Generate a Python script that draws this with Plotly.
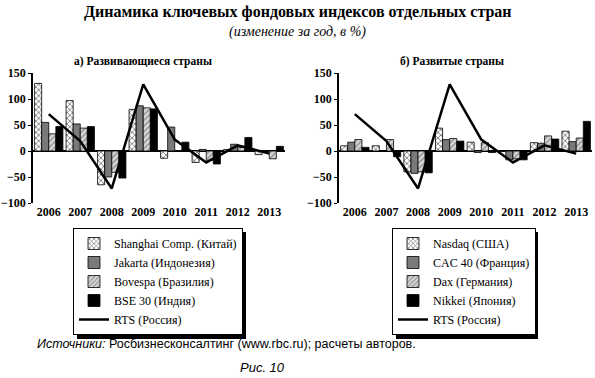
import plotly.graph_objects as go

years = ["2006", "2007", "2008", "2009", "2010", "2011", "2012", "2013"]

# Emerging markets (left panel)
shanghai = [130, 97, -65, 80, -14, -22, 3, -7]
jakarta = [55, 52, -50, 87, 46, 3, 13, -1]
bovespa = [33, 44, -41, 83, 1, -18, 7, -15]
bse30 = [47, 47, -52, 81, 17, -25, 26, 9]
rts = [71, 19, -72, 128, 22, -22, 11, -5]

# Developed markets (right panel)
nasdaq = [10, 10, -40, 44, 17, -1, 16, 38]
cac40 = [17, 1, -43, 22, -3, -17, 15, 18]
dax = [22, 22, -40, 24, 16, -15, 29, 25]
nikkei = [7, -11, -42, 19, -3, -17, 23, 57]

left_names = ["Shanghai Comp. (Китай)", "Jakarta (Индонезия)", "Bovespa (Бразилия)", "BSE 30 (Индия)", "RTS (Россия)"]
right_names = ["Nasdaq (США)", "CAC 40 (Франция)", "Dax (Германия)", "Nikkei (Япония)", "RTS (Россия)"]

SERIF = "Liberation Serif, DejaVu Serif, serif"
NARROW = "Liberation Sans Narrow, Liberation Sans, sans-serif"

styles = [
    dict(color="white", pattern=dict(shape="x", fgcolor="black", bgcolor="white", size=4, solidity=0.4)),
    dict(color="#7a7a7a", pattern=None),
    dict(color="#cfcfcf", pattern=dict(shape="/", fgcolor="#444", bgcolor="#d8d8d8", size=4, solidity=0.35)),
    dict(color="black", pattern=None),
]

fig = go.Figure()

def add_panel(series, names, xa, ya, legend):
    for vals, name, st in zip(series, names[:4], styles):
        marker = dict(color=st["color"], line=dict(color="black", width=0.8))
        if st["pattern"] is not None:
            marker["pattern"] = st["pattern"]
        fig.add_trace(go.Bar(x=years, y=vals, name=name, marker=marker,
                             xaxis=xa, yaxis=ya, legend=legend))
    fig.add_trace(go.Scatter(x=years, y=rts, name=names[4], mode="lines",
                             line=dict(color="black", width=2.5),
                             xaxis=xa, yaxis=ya, legend=legend))

add_panel([shanghai, jakarta, bovespa, bse30], left_names, "x", "y", "legend")
add_panel([nasdaq, cac40, dax, nikkei], right_names, "x2", "y2", "legend2")

tickfont = dict(family=SERIF, size=12, color="black", weight="bold")
ydom = [1 - 203 / 378, 1 - 73 / 378]

xcommon = dict(showgrid=False, showline=False, zeroline=False, ticks="",
               tickfont=tickfont, type="category", automargin=False)
ycommon = dict(range=[-100, 150], tickvals=[-100, -50, 0, 50, 100, 150],
               ticktext=["\u2212100", "\u221250", "0", "50", "100", "150"],
               showgrid=False, showline=True, linecolor="black", linewidth=1.5,
               ticks="outside", ticklen=3, tickcolor="black",
               zeroline=True, zerolinecolor="black", zerolinewidth=1.5,
               tickfont=tickfont, domain=ydom, automargin=False)

LEG_TOP = 228
legcommon = dict(xanchor="left", yanchor="top", bgcolor="white", bordercolor="black",
                 borderwidth=1, font=dict(family=SERIF, size=12, color="black"),
                 tracegroupgap=0, itemwidth=30)

fig.update_layout(
    width=595, height=378,
    margin=dict(l=0, r=0, t=0, b=0),
    paper_bgcolor="white", plot_bgcolor="white",
    barmode="group", bargap=0.1, bargroupgap=0,
    xaxis=dict(domain=[33 / 595, 285 / 595], anchor="y", **xcommon),
    yaxis=dict(anchor="x", **ycommon),
    xaxis2=dict(domain=[339 / 595, 592 / 595], anchor="y2", **xcommon),
    yaxis2=dict(anchor="x2", **ycommon),
    legend=dict(x=73 / 595, y=1 - LEG_TOP / 378, **legcommon),
    legend2=dict(x=392 / 595, y=1 - LEG_TOP / 378, **legcommon),
    showlegend=True,
)

# legend shadows
for x0, x1 in [(77, 246), (396, 538)]:
    fig.add_shape(type="rect", xref="paper", yref="paper",
                  x0=x0 / 595, x1=x1 / 595, y0=1 - (LEG_TOP + 111) / 378, y1=1 - (LEG_TOP + 4) / 378,
                  fillcolor="black", line=dict(width=0), layer="below")

ann = [
    dict(text="<b>Динамика ключевых фондовых индексов отдельных стран</b>", x=0.5, y=1 - 12 / 378,
         font=dict(family=SERIF, size=16, color="black")),
    dict(text="<i>(изменение за год, в %)</i>", x=0.5, y=1 - 32 / 378,
         font=dict(family=SERIF, size=14, color="black")),
    dict(text="<b>а) Развивающиеся страны</b>", x=143 / 595, y=1 - 61 / 378,
         font=dict(family=SERIF, size=11.5, color="black")),
    dict(text="<b>б) Развитые страны</b>", x=452 / 595, y=1 - 61 / 378,
         font=dict(family=SERIF, size=11.5, color="black")),
    dict(text="<i>Источники:</i> Росбизнесконсалтинг (www.rbc.ru); расчеты авторов.", x=35 / 595,
         y=1 - 344 / 378, xanchor="left",
         font=dict(family=NARROW, size=12.5, color="black")),
    dict(text="<i>Рис. 10</i>", x=262 / 595, y=1 - 367 / 378,
         font=dict(family=NARROW, size=13, color="black")),
]
for a in ann:
    a.setdefault("xanchor", "center")
    fig.add_annotation(xref="paper", yref="paper", yanchor="middle", showarrow=False, **a)

fig.write_html("out.html", config={"displayModeBar": False},
               post_script="document.body.style.margin='0';")
